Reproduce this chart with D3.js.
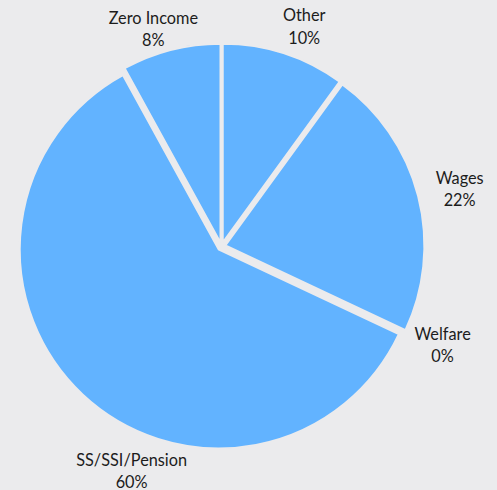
<!DOCTYPE html>
<html>
<head>
<meta charset="utf-8">
<script src="https://cdn.jsdelivr.net/npm/d3@7"></script>
<style>
  html, body { margin: 0; padding: 0; background: #ebebed; }
  svg { display: block; }
  .lbl { font-family: Lato, "Open Sans", sans-serif; font-size: 16.3px; fill: #1c1c1c; }
</style>
</head>
<body>
<svg width="497" height="490"></svg>
<script>
// income sources, clockwise from 12 o'clock
let categories = ["Other", "Wages", "Welfare", "SS/SSI/Pension", "Zero Income"];
let shares = [10, 22, 0, 60, 8];

// label placement tweaks (degrees along the ring, distance from centre)
let labelTurn = [2.6, 0.8, -1.2, -21.4, -3];
let labelDist = [235, 245, 242, 242, 228];

let svg = d3.select("svg"),
  width = +svg.attr("width"),
  height = +svg.attr("height"),
  cx = 221.5,
  cy = 246.5,
  radius = 199,
  explode = 4;

let data = categories.map(function (c, i) {
  return { name: c, value: shares[i], turn: labelTurn[i], dist: labelDist[i] };
});

let pie = d3.pie()
  .sort(null)
  .value(function (d) { return d.value; });

let arc = d3.arc()
  .innerRadius(0)
  .outerRadius(radius);

let g = svg.append("g")
  .attr("transform", "translate(" + cx + "," + cy + ")");

let arcs = pie(data);

// slices, each pushed out a little along its bisector
g.selectAll("path.slice")
  .data(arcs.filter(function (d) { return d.endAngle > d.startAngle; }))
  .enter()
  .append("path")
  .attr("class", "slice")
  .attr("d", arc)
  .attr("fill", "#62b3ff")
  .attr("stroke", "#ebebed")
  .attr("stroke-width", 2)
  .attr("transform", function (d) {
    let a = (d.startAngle + d.endAngle) / 2;
    return "translate(" + (Math.sin(a) * explode) + "," + (-Math.cos(a) * explode) + ")";
  });

// two-line labels outside the pie
let label = g.selectAll("g.label")
  .data(arcs)
  .enter()
  .append("g")
  .attr("class", "label")
  .attr("transform", function (d) {
    let a = (d.startAngle + d.endAngle) / 2 + d.data.turn * Math.PI / 180;
    return "translate(" + (Math.sin(a) * d.data.dist) + "," + (-Math.cos(a) * d.data.dist) + ")";
  });

label.append("text")
  .attr("class", "lbl")
  .attr("text-anchor", "middle")
  .attr("y", -11)
  .attr("dy", "0.35em")
  .text(function (d) { return d.data.name; });

label.append("text")
  .attr("class", "lbl")
  .attr("text-anchor", "middle")
  .attr("y", 11.5)
  .attr("dy", "0.35em")
  .text(function (d) { return d3.format(".0f")(d.data.value) + "%"; });
</script>
</body>
</html>
